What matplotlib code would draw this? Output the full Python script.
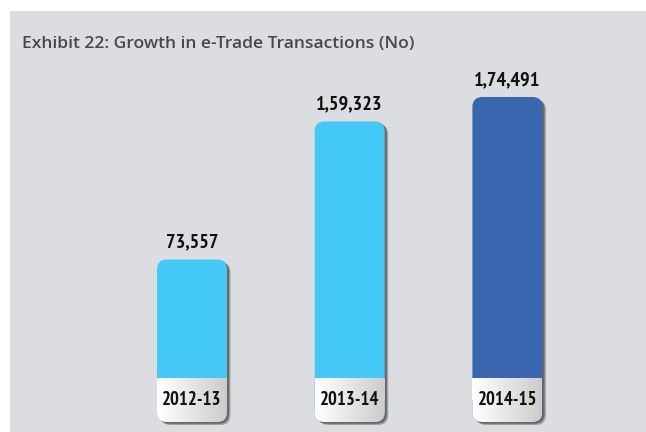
import matplotlib.pyplot as plt
from matplotlib.patches import FancyBboxPatch, Rectangle
import numpy as np

years = ['2012-13', '2013-14', '2014-15']
transactions = [73557, 159323, 174491]
value_labels = ['73,557', '1,59,323', '1,74,491']
bar_colors = ['#44c8f5', '#44c8f5', '#3a66b0']

W, H = 646, 432
PX_X = 157.7          # pixels per category step
PX_Y = 174491 / 281   # transactions per pixel
ZERO_PX = 54          # baseline, pixels from bottom
FIRST_PX = 192        # centre of first bar, pixels from left
NARROW = ['PT Sans Narrow', 'DejaVu Sans']

fig = plt.figure(figsize=(W / 100, H / 100), dpi=100)
fig.patch.set_facecolor('white')
fig.patches.append(Rectangle((10 / W, 0), 1, (H - 11) / H, transform=fig.transFigure,
                             facecolor='#dcdde0', edgecolor='none', zorder=-1))

ax = fig.add_axes([0, 0, 1, 1])
ax.set_xlim(-FIRST_PX / PX_X, (W - FIRST_PX) / PX_X)
ax.set_ylim(-ZERO_PX * PX_Y, (H - ZERO_PX) * PX_Y)
ax.axis('off')
ax.patch.set_alpha(0)

fig.text(22 / W, 1 - 44 / H, 'Exhibit 22: Growth in e-Trade Transactions (No)',
         fontsize=12.6, fontfamily='Open Sans', fontweight='semibold',
         color='#48484a', va='center', ha='left')

bars = ax.bar(range(len(years)), transactions, width=70 / PX_X, color='none')

r = 10 / PX_X
aspect = PX_Y * PX_X
cap_h = 44 * PX_Y
sx, sy = 3.5 / PX_X, 3 * PX_Y


def rounded(x, y, w, h, **kw):
    return FancyBboxPatch((x, y), w, h, boxstyle=f'round,pad=0,rounding_size={r}',
                          mutation_aspect=aspect, **kw)


grad = np.linspace(1.0, 0.80, 64)[None, :]

for b, color, val, year in zip(bars, bar_colors, value_labels, years):
    x, w, h = b.get_x(), b.get_width(), b.get_height()
    # soft drop shadow
    for k, a in [(1.0, 0.35), (0.6, 0.5)]:
        ax.add_patch(rounded(x + sx * k, -cap_h - sy * k, w, h + cap_h,
                             facecolor='#333333', edgecolor='none', alpha=a, zorder=1))
    ax.add_patch(rounded(x, -cap_h, w, h + cap_h, facecolor=color,
                         edgecolor='none', zorder=2))
    # year label cap with gradient fill
    cap = rounded(x, -cap_h, w, cap_h, facecolor='none', edgecolor='none', zorder=3)
    ax.add_patch(cap)
    top = Rectangle((x, -cap_h / 2), w, cap_h / 2, facecolor='none', edgecolor='none')
    ax.add_patch(top)
    for clip in (cap, top):
        im = ax.imshow(grad, cmap='gray', vmin=0, vmax=1, aspect='auto',
                       extent=(x, x + w, -cap_h, 0), zorder=3, interpolation='bilinear')
        im.set_clip_path(clip)
    ax.text(x + w / 2, -cap_h / 2, year, ha='center', va='center', zorder=4,
            fontsize=13.5, fontweight='bold', fontfamily=NARROW, color='#111111')
    ax.text(x + w / 2, h + 17 * PX_Y, val, ha='center', va='center', zorder=4,
            fontsize=14.5, fontweight='bold', fontfamily=NARROW, color='#111111')

fig.savefig('out.png', dpi=100)
